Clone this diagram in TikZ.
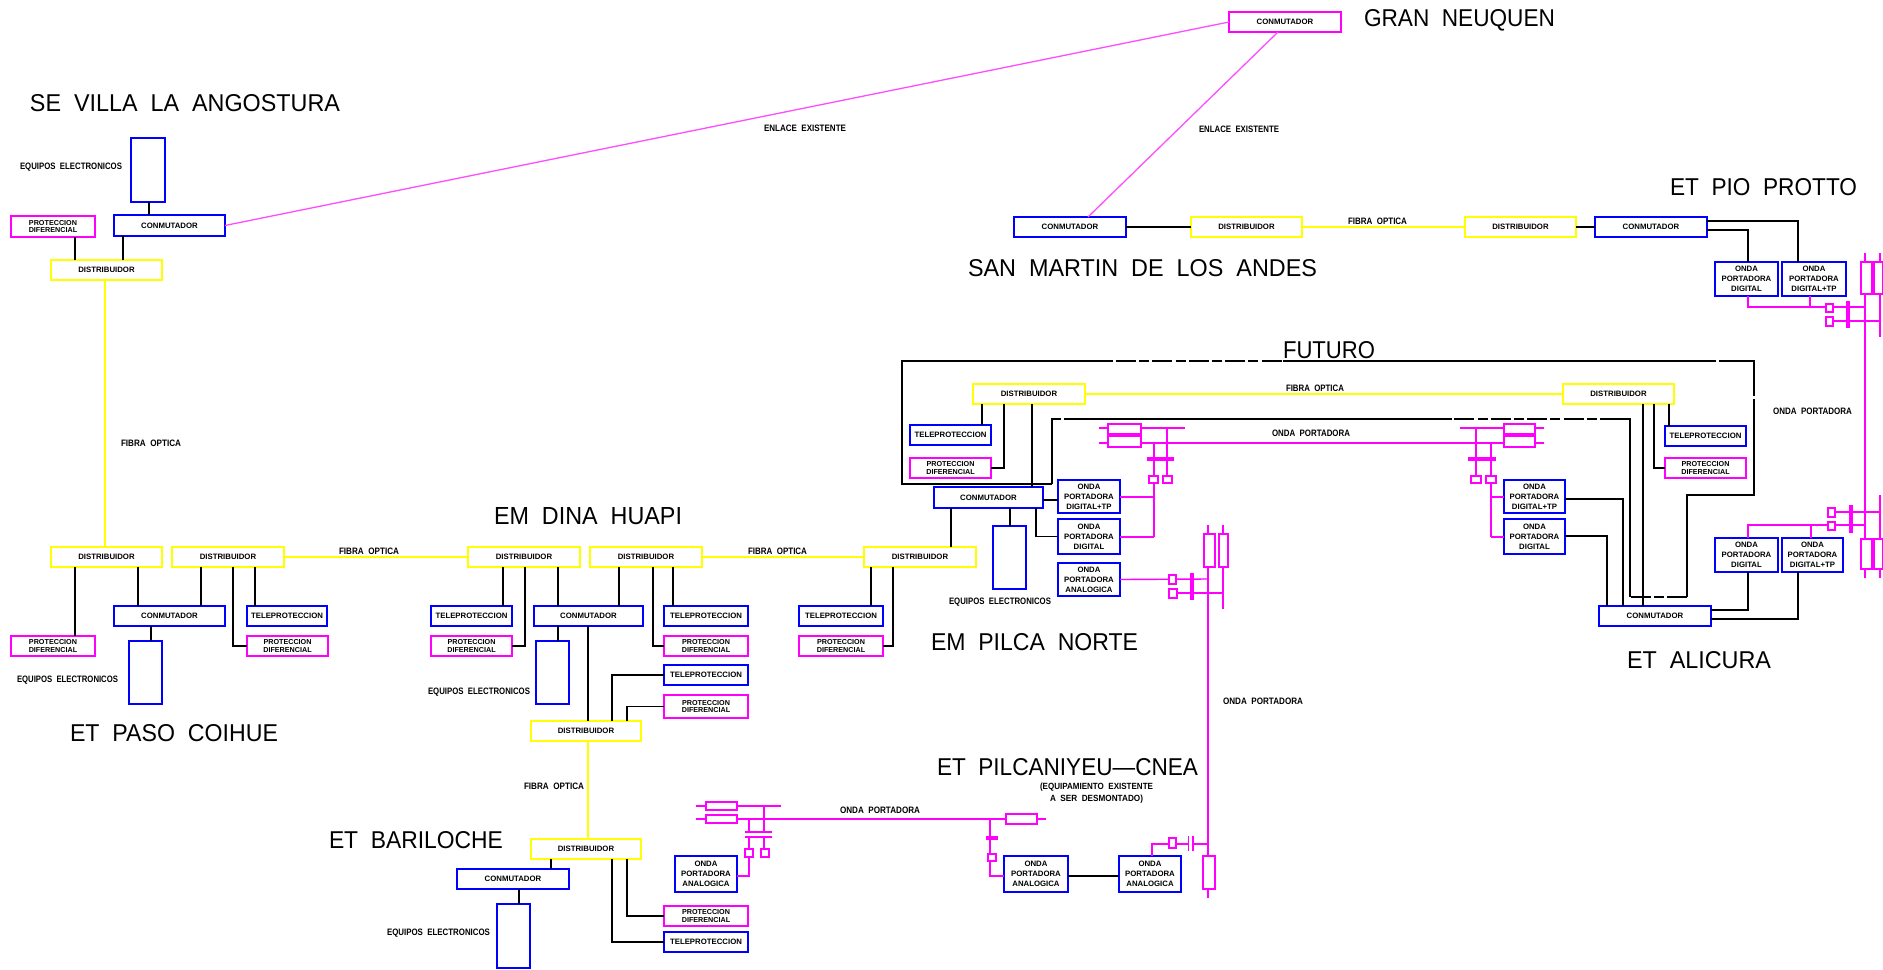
\documentclass[tikz,border=0pt]{standalone}
\usepackage{fontspec}
\usepackage{graphicx}
\setmainfont{Liberation Sans}
\definecolor{mg}{HTML}{FF00FF}
\definecolor{bl}{HTML}{0000FF}
\definecolor{yl}{HTML}{FFFF00}
\tikzset{
  ebox/.style={rectangle,line width=0.85pt,inner sep=0pt,outer sep=0pt,align=center,fill=white,
    font=\fontsize{3.9}{5}\selectfont\bfseries},
  pb/.style={font=\fontsize{3.6}{3.9}\selectfont\bfseries},
  lab/.style={inner sep=0pt,outer sep=0pt},
  blk/.style={draw=black,line width=0.8pt},
  ml/.style={draw=mg,line width=0.7pt},
  yell/.style={draw=yl,line width=0.9pt},
  thin link/.style={draw=mg!70!white,line width=0.65pt},
  mthick/.style={draw=mg,line width=1.7pt},
  sq/.style={draw=mg,line width=0.7pt,fill=white},
  dline/.style={draw=black,line width=0.8pt,dash pattern=on 10pt off 1.6pt on 5pt off 1.6pt},
}
\newcommand\bx[8][]{\node[ebox,#1,draw=#3,minimum width={(#6-#4)*0.5pt},minimum height={(#7-#5)*0.5pt}]
  (#2) at ({(#4+#6)/2},{(#5+#7)/2}) {#8};}
\newcommand\lbl[6]{\pgfmathsetlengthmacro\lblw{(#3-#2)*0.5}\pgfmathsetlengthmacro\lblh{#5*0.5}%
  \node[lab] (#6) at ({(#2+#3)/2},#4) {\resizebox{\lblw}{\lblh}{#1}};}
\newcommand\smlab[5]{\lbl{\bfseries #1}{#2}{#3}{#4}{6.5}{#5}}
\newcommand\ttl[5]{\lbl{#1}{#2}{#3}{#4}{17}{#5}}
\newcommand\Tele{TELEPROTECCION}
\newcommand\Prot{PROTECCION\\DIFERENCIAL}
\newcommand\Con{CONMUTADOR}
\newcommand\Dis{DISTRIBUIDOR}
\newcommand\OD{ONDA\\PORTADORA\\DIGITAL}
\newcommand\ODT{ONDA\\PORTADORA\\DIGITAL+TP}
\newcommand\OA{ONDA\\PORTADORA\\ANALOGICA}
\begin{document}
\begin{tikzpicture}[x=0.5pt,y=-0.5pt]
\useasboundingbox (0,0) rectangle (1883,969);
% --- long lines drawn first
\coordinate (j1) at (1032,484);
\coordinate (tl) at (902,361);
\coordinate (tr) at (1754,361);
\coordinate (ml) at (1052,419);
\coordinate (mr) at (1630,419);
% --- boxes
\bx{gncon}{mg}{1229}{12}{1341}{32}{\Con}
\bx{seq}{bl}{131}{138}{165}{202}{}
\bx{secon}{bl}{114}{215}{225}{236}{\Con}
\bx[pb]{seprot}{mg}{11}{216}{95}{237}{\Prot}
\bx{sedist}{yl}{51}{260}{162}{280}{\Dis}
\bx{pd1}{yl}{51}{547}{162}{567}{\Dis}
\bx{pd2}{yl}{172}{547}{284}{567}{\Dis}
\bx{pcon}{bl}{114}{606}{225}{626}{\Con}
\bx{ptele}{bl}{247}{606}{327}{626}{\Tele}
\bx[pb]{pprot1}{mg}{11}{636}{95}{656}{\Prot}
\bx[pb]{pprot2}{mg}{247}{636}{328}{656}{\Prot}
\bx{peq}{bl}{129}{641}{162}{704}{}
\bx{hd1}{yl}{468}{547}{580}{567}{\Dis}
\bx{hd2}{yl}{590}{547}{702}{567}{\Dis}
\bx{hte1}{bl}{431}{606}{512}{626}{\Tele}
\bx[pb]{hpr1}{mg}{431}{636}{512}{656}{\Prot}
\bx{hcon}{bl}{534}{606}{643}{626}{\Con}
\bx{heq}{bl}{536}{641}{569}{704}{}
\bx{hte2}{bl}{664}{606}{748}{626}{\Tele}
\bx[pb]{hpr2}{mg}{664}{636}{748}{656}{\Prot}
\bx{hte3}{bl}{664}{665}{748}{685}{\Tele}
\bx[pb]{hpr3}{mg}{664}{695}{748}{718}{\Prot}
\bx{hd3}{yl}{531}{721}{641}{741}{\Dis}
\bx{nd}{yl}{864}{547}{976}{567}{\Dis}
\bx{nte}{bl}{799}{606}{883}{626}{\Tele}
\bx[pb]{npr}{mg}{799}{636}{883}{656}{\Prot}
\bx{bd}{yl}{531}{839}{641}{859}{\Dis}
\bx{bcon}{bl}{457}{869}{569}{889}{\Con}
\bx{beq}{bl}{497}{904}{530}{968}{}
\bx[pb]{bpr}{mg}{664}{906}{748}{926}{\Prot}
\bx{bte}{bl}{664}{932}{748}{952}{\Tele}
\bx{oa1}{bl}{675}{856}{737}{892}{\OA}
\bx{oa2}{bl}{1004}{856}{1068}{892}{\OA}
\bx{oa3}{bl}{1119}{856}{1181}{892}{\OA}
\bx{fd}{yl}{973}{384}{1085}{404}{\Dis}
\bx{fte}{bl}{910}{425}{991}{445}{\Tele}
\bx[pb]{fpr}{mg}{910}{458}{991}{478}{\Prot}
\bx{fcon}{bl}{934}{487}{1043}{508}{\Con}
\bx{o1}{bl}{1058}{480}{1120}{513}{\ODT}
\bx{o2}{bl}{1058}{519}{1120}{554}{\OD}
\bx{o3}{bl}{1058}{563}{1120}{596}{\OA}
\bx{feq}{bl}{993}{526}{1026}{589}{}
\bx{o4}{bl}{1504}{480}{1565}{513}{\ODT}
\bx{o5}{bl}{1504}{519}{1565}{554}{\OD}
\bx{ad}{yl}{1563}{384}{1674}{404}{\Dis}
\bx{ate}{bl}{1665}{426}{1746}{446}{\Tele}
\bx[pb]{apr}{mg}{1665}{458}{1746}{478}{\Prot}
\bx{acon}{bl}{1599}{606}{1711}{626}{\Con}
\bx{o6}{bl}{1715}{538}{1778}{572}{\OD}
\bx{o7}{bl}{1782}{538}{1843}{572}{\ODT}
\bx{smcon}{bl}{1014}{217}{1126}{237}{\Con}
\bx{smd}{yl}{1191}{217}{1302}{237}{\Dis}
\bx{ppd}{yl}{1465}{217}{1576}{237}{\Dis}
\bx{ppcon}{bl}{1595}{217}{1707}{237}{\Con}
\bx{o8}{bl}{1715}{262}{1778}{296}{\OD}
\bx{o9}{bl}{1782}{262}{1846}{296}{\ODT}
% --- long magenta links
\draw[thin link] (secon.east) -- (gncon.west);
\draw[thin link] (gncon.south -| 1278,0) -- (smcon.north -| 1088,0);
% --- yellow links
\draw[yell] (sedist.south -| 105,0) -- (pd1.north -| 105,0);
\draw[yell] (pd2.east) -- (hd1.west);
\draw[yell] (hd2.east) -- (nd.west);
\draw[yell] (hd3.south -| 588,0) -- (bd.north -| 588,0);
\draw[yell] (fd.east) -- (ad.west);
\draw[yell] (smd.east) -- (ppd.west);
% --- black connectors
\draw[blk] (seq.south -| 149,0) -- (secon.north -| 149,0);
\draw[blk] (seprot.south -| 75,0) -- (sedist.north -| 75,0);
\draw[blk] (secon.south -| 123,0) -- (sedist.north -| 123,0);
\draw[blk] (pd1.south -| 75,0) -- (pprot1.north -| 75,0);
\draw[blk] (pd1.south -| 138,0) -- (pcon.north -| 138,0);
\draw[blk] (pd2.south -| 201,0) -- (pcon.north -| 201,0);
\draw[blk] (pd2.south -| 255,0) -- (ptele.north -| 255,0);
\draw[blk] (pd2.south -| 233,0) |- (pprot2.west);
\draw[blk] (pcon.south -| 151,0) -- (peq.north -| 151,0);
\draw[blk] (hd1.south -| 503,0) -- (hte1.north -| 503,0);
\draw[blk] (hd1.south -| 525,0) |- (hpr1.east);
\draw[blk] (hd1.south -| 558,0) -- (hcon.north -| 558,0);
\draw[blk] (hd2.south -| 619,0) -- (hcon.north -| 619,0);
\draw[blk] (hd2.south -| 653,0) |- (hpr2.west);
\draw[blk] (hd2.south -| 673,0) -- (hte2.north -| 673,0);
\draw[blk] (hcon.south -| 558,0) -- (heq.north -| 558,0);
\draw[blk] (hcon.south -| 588,0) -- (hd3.north -| 588,0);
\draw[blk] (hd3.north -| 612,0) |- (hte3.west);
\draw[blk] (hd3.north -| 627,0) |- (hpr3.west);
\draw[blk] (nd.south -| 871,0) -- (nte.north -| 871,0);
\draw[blk] (nd.south -| 893,0) |- (npr.east);
\draw[blk] (nd.north -| 951,0) -- (fcon.south -| 951,0);
\draw[blk] (bd.south -| 551,0) -- (bcon.north -| 551,0);
\draw[blk] (bcon.south -| 519,0) -- (beq.north -| 519,0);
\draw[blk] (bd.south -| 627,0) |- (bpr.west);
\draw[blk] (bd.south -| 612,0) |- (bte.west);
\draw[blk] (oa2.east |- 0,876) -- (oa3.west |- 0,876);
\draw[blk] (fd.south -| 982,0) -- (fte.north -| 982,0);
\draw[blk] (fd.south -| 1004,0) |- (fpr.east);
\draw[blk] (fd.south -| 1032,0) -- (fcon.north -| 1032,0);
\draw[blk] (fcon.east |- 0,500) -- (o1.west |- 0,500);
\draw[blk] (fcon.south -| 1036,0) |- (o2.west);
\draw[blk] (fcon.south -| 1010,0) -- (feq.north -| 1010,0);
\draw[blk] (smcon.east) -- (smd.west);
\draw[blk] (ppd.east) -- (ppcon.west);
\draw[blk] (ppcon.east |- 0,221) -| (o9.north -| 1798,0);
\draw[blk] (ppcon.east |- 0,230) -| (o8.north -| 1748,0);
\draw[blk] (ad.south -| 1643,0) -- (acon.north -| 1643,0);
\draw[blk] (ad.south -| 1654,0) |- (apr.west);
\draw[blk] (ad.south -| 1669,0) -- (ate.north -| 1669,0);
\draw[blk] (o4.east |- 0,499) -| (acon.north -| 1623,0);
\draw[blk] (o5.east |- 0,536) -| (acon.north -| 1607,0);
\draw[blk] (acon.east |- 0,610) -| (o6.south -| 1748,0);
\draw[blk] (acon.east |- 0,619) -| (o7.south -| 1798,0);
% loop with the FUTURO line
\draw[blk] (1052,484) -- (j1) -- (902,484) -- (tl) -- (1113,361);
\draw[dline] (1116,361) -- (1283,361);
\draw[blk] (1283,361) -- (1716,361);
\draw[blk] (1719,361) -- (tr) -- (1754,396);
\draw[blk] (1754,399) -- (1754,495) -- (1687,495) -- (1687,597);
\draw[dline] (1687,597) -- (1630,597);
\draw[blk] (1630,597) -- (mr) -- (1620,419);
\draw[dline] (1620,419) -- (1451,419);
\draw[blk] (1451,419) -- (1064,419);
\draw[blk] (1061,419) -- (ml) -- (1052,484);
% --- carrier symbol, future left
\draw[ml] (1099,428) -- (1185,428);
\draw[ml] (1099,443) -- (1544,443);
\draw[ml] (1460,428) -- (1544,428);
\draw[sq] (1108,424) rectangle (1141,435);
\draw[sq] (1108,435) rectangle (1141,447);
\draw[mthick] (1108,435) -- (1141,435);
\draw[ml] (1154,443) -- (1154,537);
\draw[ml] (1167,428) -- (1167,476);
\draw[mthick] (1147,459) -- (1174,459);
\draw[sq] (1149,476) rectangle (1158,483);
\draw[sq] (1163,476) rectangle (1172,483);
\draw[ml] (o1.east |- 0,497) -- (1154,497);
\draw[ml] (o2.east |- 0,537) -- (1154,537);
% --- carrier symbol, future right
\draw[sq] (1504,424) rectangle (1535,435);
\draw[sq] (1504,435) rectangle (1535,447);
\draw[mthick] (1504,435) -- (1535,435);
\draw[ml] (1476,428) -- (1476,476);
\draw[ml] (1491,443) -- (1491,537);
\draw[mthick] (1468,459) -- (1496,459);
\draw[sq] (1471,476) rectangle (1481,483);
\draw[sq] (1486,476) rectangle (1496,483);
\draw[ml] (1491,497) -- (o4.west |- 0,497);
\draw[ml] (1491,537) -- (o5.west |- 0,537);
% --- Pilca Norte analog
\draw[ml] (o3.east) -- (1208,579);
\draw[ml] (1169,593) -- (1223,593);
\draw[ml] (1208,525) -- (1208,898);
\draw[ml] (1223,525) -- (1223,609);
\draw[sq] (1204,534) rectangle (1215,567);
\draw[sq] (1219,534) rectangle (1228,567);
\draw[sq] (1169,575) rectangle (1176,584);
\draw[sq] (1169,589) rectangle (1177,598);
\draw[mthick] (1192,573) -- (1192,600);
% --- Pilcaniyeu right
\draw[ml] (oa3.north -| 1152,0) |- (1208,844);
\draw[sq] (1169,838) rectangle (1176,848);
\draw[sq,fill=white,draw=white] (1189,840) rectangle (1193,848);
\draw[ml,line width=0.8pt] (1188.5,836) -- (1188.5,851);
\draw[ml,line width=0.8pt] (1193,836) -- (1193,851);
\draw[sq] (1203,856) rectangle (1215,889);
% --- Pilcaniyeu left
\draw[ml] (696,806) -- (781,806);
\draw[ml] (696,819) -- (1046,819);
\draw[sq] (706,802) rectangle (737,810);
\draw[sq] (706,815) rectangle (737,823);
\draw[sq] (1006,814) rectangle (1037,824);
\draw[ml] (749,819) -- (749,832);
\draw[ml] (749,837) -- (749,876) -- (oa1.east |- 0,876);
\draw[ml] (764,806) -- (764,832);
\draw[ml] (764,837) -- (764,849);
\draw[ml] (745,832) -- (772,832);
\draw[ml] (745,837) -- (772,837);
\draw[sq] (745,849) rectangle (753,857);
\draw[sq] (761,849) rectangle (769,857);
\draw[ml] (990,819) -- (990,876) -- (oa2.west |- 0,876);
\draw[mthick] (986,838) -- (998,838);
\draw[sq] (988,854) rectangle (996,861);
% --- Alicura and Pio Protto carrier
\draw[ml] (1865,253) -- (1865,578);
\draw[ml] (1880,253) -- (1880,337);
\draw[ml] (1880,495) -- (1880,578);
\draw[sq] (1861,262) rectangle (1883,294);
\draw[sq] (1861,539) rectangle (1883,569);
\draw[mthick] (1873,262) -- (1873,294);
\draw[mthick] (1873,539) -- (1873,569);
\draw[ml] (o8.south -| 1748,0) |- (1865,307);
\draw[ml] (o9.south -| 1810,0) -- (1810,307);
\draw[ml] (1826,321) -- (1880,321);
\draw[sq] (1826,304) rectangle (1833,312);
\draw[sq] (1826,317) rectangle (1833,326);
\draw[mthick] (1848,301) -- (1848,328);
\draw[ml] (o6.north -| 1748,0) |- (1865,525);
\draw[ml] (o7.north -| 1811,0) -- (1811,525);
\draw[ml] (1828,512) -- (1880,512);
\draw[sq] (1828,508) rectangle (1835,517);
\draw[sq] (1828,522) rectangle (1835,530);
\draw[mthick] (1851,505) -- (1851,533);
% --- titles
\ttl{SE~~VILLA~~LA~~ANGOSTURA}{30}{340}{103}{t1}
\ttl{GRAN~~NEUQUEN}{1364}{1555}{20}{t2}
\ttl{SAN~~MARTIN~~DE~~LOS~~ANDES}{968}{1317}{268}{t3}
\ttl{ET~~PIO~~PROTTO}{1670}{1857}{187}{t4}
\ttl{FUTURO}{1283}{1375}{350}{t5}
\ttl{EM~~DINA~~HUAPI}{494}{682}{516}{t6}
\ttl{EM~~PILCA~~NORTE}{931}{1138}{642}{t7}
\ttl{ET~~ALICURA}{1627}{1771}{660}{t8}
\ttl{ET~~PASO~~COIHUE}{70}{278}{733}{t9}
\ttl{ET~~PILCANIYEU---CNEA}{937}{1198}{767}{t10}
\ttl{ET~~BARILOCHE}{329}{503}{840}{t11}
% --- small labels
\smlab{EQUIPOS~~ELECTRONICOS}{20}{122}{167}{s1}
\smlab{EQUIPOS~~ELECTRONICOS}{17}{118}{680}{s2}
\smlab{EQUIPOS~~ELECTRONICOS}{428}{530}{692}{s3}
\smlab{EQUIPOS~~ELECTRONICOS}{949}{1051}{602}{s4}
\smlab{EQUIPOS~~ELECTRONICOS}{387}{490}{933}{s5}
\smlab{ENLACE~~EXISTENTE}{764}{846}{128}{s6}
\smlab{ENLACE~~EXISTENTE}{1199}{1279}{129}{s7}
\smlab{FIBRA~~OPTICA}{1348}{1407}{221}{s8}
\smlab{FIBRA~~OPTICA}{121}{181}{443}{s9}
\smlab{FIBRA~~OPTICA}{339}{399}{551}{s10}
\smlab{FIBRA~~OPTICA}{748}{807}{551}{s11}
\smlab{FIBRA~~OPTICA}{524}{584}{786}{s12}
\smlab{FIBRA~~OPTICA}{1286}{1344}{388}{s13}
\smlab{ONDA~~PORTADORA}{1272}{1350}{433}{s14}
\smlab{ONDA~~PORTADORA}{1773}{1852}{411}{s15}
\smlab{ONDA~~PORTADORA}{1223}{1303}{701}{s16}
\smlab{ONDA~~PORTADORA}{840}{920}{810}{s17}
\smlab{(EQUIPAMIENTO~~EXISTENTE}{1040}{1153}{787}{s18}
\smlab{A~~SER~~DESMONTADO)}{1050}{1143}{799}{s19}
\end{tikzpicture}
\end{document}
